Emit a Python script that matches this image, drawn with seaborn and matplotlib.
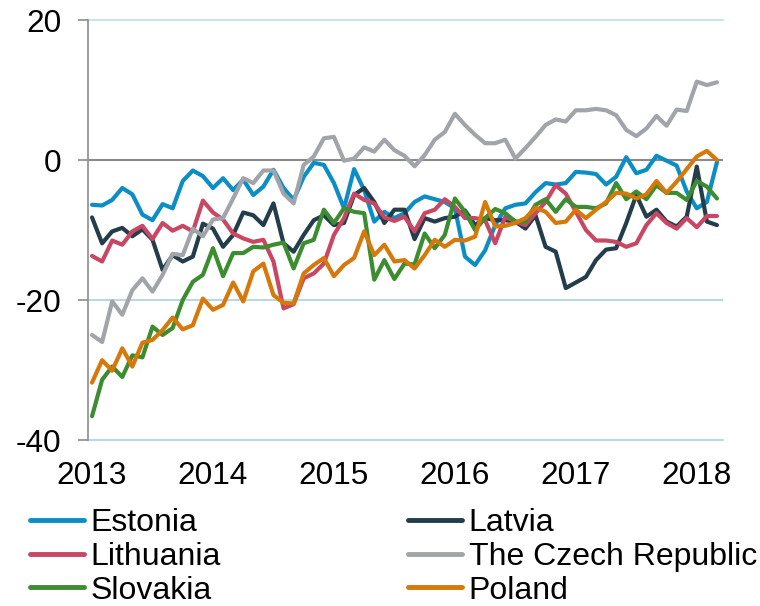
import matplotlib
matplotlib.use("Agg")
import matplotlib.pyplot as plt
from matplotlib.lines import Line2D
import numpy as np
import pandas as pd
import seaborn as sns

# ---- data (monthly, Jan 2013 .. Mar 2018) ----
months = list(range(63))
year_ticks = [0, 12, 24, 36, 48, 60]
year_labels = ["2013", "2014", "2015", "2016", "2017", "2018"]

estonia = [-6.4, -6.5, -5.7, -4.0, -4.9, -7.8, -8.6, -6.3, -6.9, -3.0,
           -1.5, -2.3, -4.0, -2.6, -4.3, -2.8, -5.0, -3.8, -1.4, -4.0,
           -5.7, -2.4, -0.4, -0.7, -3.3, -6.9, -1.3, -4.3, -8.8, -7.4,
           -8.3, -7.6, -6.0, -5.2, -5.6, -6.0, -6.9, -13.8, -15.0, -12.9,
           -9.3, -6.9, -6.4, -6.2, -4.6, -3.3, -3.5, -3.3, -1.7, -1.8,
           -2.0, -3.5, -2.4, 0.4, -1.9, -1.4, 0.6, -0.1, -0.8, -4.5,
           -6.9, -6.0, -0.3]
latvia = [-8.2, -11.9, -10.2, -9.7, -10.9, -9.9, -11.4, -15.7, -13.6, -14.5,
          -13.8, -9.1, -9.8, -12.4, -10.7, -7.5, -7.9, -9.3, -6.2, -11.9,
          -13.1, -10.7, -8.6, -7.9, -9.3, -9.0, -5.0, -4.0, -6.0, -9.0,
          -7.1, -7.1, -11.3, -8.3, -8.8, -8.3, -8.1, -7.2, -9.3, -8.3,
          -8.6, -8.6, -8.8, -9.8, -7.9, -12.4, -13.1, -18.3, -17.5, -16.7,
          -14.3, -12.8, -12.6, -9.0, -5.0, -8.1, -7.1, -8.8, -9.5, -8.1,
          -0.95, -8.8, -9.3]
lithuania = [-13.7, -14.5, -11.5, -12.1, -10.2, -9.4, -11.3, -9.0, -10.1, -9.4,
             -10.2, -5.8, -7.5, -8.5, -10.5, -11.2, -11.7, -11.4, -14.5, -21.2,
             -20.6, -16.9, -16.2, -14.8, -10.7, -8.3, -4.8, -5.7, -6.2, -8.2,
             -8.7, -8.1, -10.2, -7.6, -7.1, -5.6, -6.7, -8.3, -8.3, -8.6,
             -11.9, -8.1, -8.8, -9.3, -7.6, -6.0, -3.6, -4.8, -7.4, -10.0,
             -11.5, -11.5, -11.7, -12.4, -11.9, -9.3, -7.6, -9.0, -9.8, -8.3,
             -9.6, -8.0, -8.0]
czech = [-25.0, -26.0, -20.2, -22.1, -18.6, -16.9, -18.8, -16.4, -13.4, -13.6,
         -9.8, -10.9, -8.5, -8.3, -5.5, -2.6, -3.3, -1.5, -1.5, -4.8,
         -6.2, -0.7, 0.5, 3.1, 3.3, -0.1, 0.2, 1.8, 1.2, 2.9,
         1.4, 0.6, -0.9, 0.7, 2.9, 4.0, 6.6, 5.0, 3.6, 2.4,
         2.4, 2.9, 0.2, 1.7, 3.3, 5.0, 5.8, 5.5, 7.1, 7.1,
         7.3, 7.1, 6.4, 4.3, 3.4, 4.5, 6.3, 4.9, 7.2, 7.0,
         11.2, 10.7, 11.1]
slovakia = [-36.6, -31.4, -29.5, -31.0, -27.9, -28.2, -23.8, -25.0, -24.0, -20.0,
            -17.4, -16.4, -12.6, -16.6, -13.3, -13.3, -12.4, -12.5, -12.1, -11.8,
            -15.5, -11.9, -11.4, -7.1, -9.0, -6.9, -7.4, -7.6, -17.1, -14.3,
            -17.0, -14.8, -14.9, -10.5, -12.6, -10.7, -5.5, -7.4, -10.0, -8.3,
            -7.0, -7.6, -8.8, -8.8, -6.4, -5.6, -7.4, -5.6, -6.7, -6.7,
            -6.9, -6.2, -3.3, -5.6, -4.5, -5.6, -3.6, -4.7, -4.7, -5.7,
            -3.0, -3.8, -5.5]
poland = [-31.8, -28.6, -30.1, -26.9, -29.5, -26.1, -25.7, -24.3, -22.5, -24.2,
          -23.6, -19.8, -21.4, -20.7, -17.5, -20.2, -15.9, -14.8, -19.3, -20.4,
          -20.5, -16.2, -15.0, -14.0, -16.6, -15.0, -14.0, -10.2, -13.6, -12.1,
          -14.5, -14.3, -15.5, -13.6, -11.4, -12.4, -11.4, -11.5, -10.95, -6.0,
          -9.5, -9.4, -9.0, -8.3, -6.8, -7.4, -9.0, -8.8, -7.1, -8.3,
          -7.1, -6.0, -4.7, -4.8, -5.5, -4.9, -3.0, -4.7, -3.1, -1.3,
          0.5, 1.3, 0.0]

countries = ["Estonia", "Latvia", "Lithuania", "The Czech Republic", "Slovakia", "Poland"]
series = [estonia, latvia, lithuania, czech, slovakia, poland]
colors = ["#0b8ec5", "#233d4b", "#c94763", "#a1a5a9", "#3b8d2f", "#d6780a"]

df = pd.concat(
    [pd.DataFrame({"month": months, "value": vals, "country": name})
     for name, vals in zip(countries, series)],
    ignore_index=True,
)

# ---- style ----
sns.set_theme(style="white")
plt.rcParams["font.family"] = ["Liberation Sans", "DejaVu Sans"]
plt.rcParams["axes.unicode_minus"] = False
plt.rcParams["text.color"] = "black"

fig = plt.figure(figsize=(7.6, 6.06), dpi=100)
ax = fig.add_axes([88 / 760, 1 - 440 / 606, (723 - 88) / 760, 420 / 606])

# horizontal reference lines
ax.axhline(20, color="#cde2ea", lw=1.5, zorder=0.5, clip_on=False)
ax.axhline(0, color="#8a8a8a", lw=1.5, zorder=0.5)
ax.axhline(-20, color="#a9d1df", lw=1.2, zorder=0.5)
ax.axhline(-40, color="#b9dae5", lw=1.5, zorder=0.5, clip_on=False)

sns.lineplot(data=df, x="month", y="value", hue="country", hue_order=countries,
             palette=colors, linewidth=3.0, legend=False, errorbar=None,
             ax=ax, zorder=3)

ax.set_xlim(-0.4, 62.6)
ax.set_ylim(-40, 20)
ax.set_xlabel("")
ax.set_ylabel("")
ax.set_yticks([-40, -20, 0, 20])
ax.set_yticklabels(["-40", "-20", "0", "20"])
ax.set_xticks(year_ticks)
ax.set_xticklabels(year_labels)
ax.tick_params(axis="x", bottom=False, length=0, pad=15, labelsize=22.7, labelcolor="black")
ax.tick_params(axis="y", left=True, length=7, width=1.2, color="#8c8c8c",
               direction="out", pad=12, labelsize=22.7, labelcolor="black")

for s in ["top", "right", "bottom"]:
    ax.spines[s].set_visible(False)
ax.spines["left"].set_color("#8c8c8c")
ax.spines["left"].set_linewidth(1.2)

# ---- legend: two columns ----
handles = {n: Line2D([0], [0], color=c, lw=3.5, solid_capstyle="round")
           for n, c in zip(countries, colors)}
col1 = ["Estonia", "Lithuania", "Slovakia"]
col2 = ["Latvia", "The Czech Republic", "Poland"]
common = dict(loc="upper left", frameon=False, borderpad=0, borderaxespad=0,
              handlelength=1.7, handletextpad=0.2, labelspacing=0.12,
              fontsize=23, labelcolor="black")
fig.legend([handles[n] for n in col1], col1,
           bbox_to_anchor=(30 / 760, 1 - 508 / 606), **common)
fig.legend([handles[n] for n in col2], col2,
           bbox_to_anchor=(408 / 760, 1 - 508 / 606), **common)

fig.savefig("out.png", dpi=100)
